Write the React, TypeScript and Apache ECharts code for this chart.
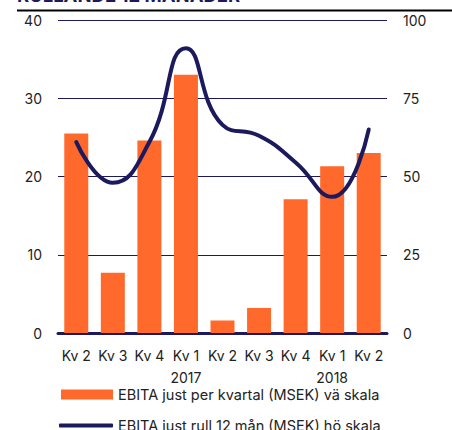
import React, { useEffect, useRef } from "react";
import * as echarts from "echarts";

const categories = ["Kv 2", "Kv 3", "Kv 4", "Kv 1\n2017", "Kv 2", "Kv 3", "Kv 4", "Kv 1\n2018", "Kv 2"];
const quarterly = [25.5, 7.7, 24.6, 33.0, 1.6, 3.2, 17.1, 21.3, 23.0];
const rolling12 = [61, 48, 61, 91, 66.5, 63, 54.5, 43.5, 65];
const leftTicks = { min: 0, max: 40, interval: 10 };
const rightTicks = { min: 0, max: 100, interval: 25 };
const seriesNames = ["EBITA just per kvartal (MSEK) vä skala", "EBITA just rull 12 mån (MSEK) hö skala"];
const titleText = "RULLANDE 12 MÅNADER";

const ORANGE = "#FF6A2C";
const NAVY = "#1C1A5C";
const FONT = "Inter, 'Noto Sans', sans-serif";

export default function App() {
  const ref = useRef<HTMLDivElement>(null);
  useEffect(() => {
    document.body.style.margin = "0";
    const chart = echarts.init(ref.current!, null, { renderer: "svg" });
    const legendText = { fontSize: 14.5, color: "#222", fontFamily: FONT };
    chart.setOption({
      animation: false,
      textStyle: { fontFamily: FONT },
      graphic: [
        {
          type: "text",
          left: 17,
          top: -15,
          style: { text: titleText, font: `bold 18.5px ${FONT}`, fill: NAVY },
        },
        {
          type: "line",
          shape: { x1: 17, y1: 10.5, x2: 452, y2: 10.5 },
          style: { stroke: "#000", lineWidth: 2 },
        },
      ],
      grid: { left: 58, right: 65, top: 20, bottom: 97 },
      legend: [
        {
          left: 56,
          top: 382,
          itemWidth: 52,
          itemHeight: 10,
          textStyle: legendText,
          data: [{ name: seriesNames[0], icon: "rect" }],
        },
        {
          left: 54,
          top: 413,
          itemWidth: 54,
          itemHeight: 4,
          textStyle: legendText,
          data: [{ name: seriesNames[1], icon: "roundRect", itemStyle: { color: NAVY } }],
        },
      ],
      xAxis: {
        type: "category",
        data: categories,
        axisLine: { lineStyle: { color: NAVY, width: 3 } },
        axisTick: { show: false },
        axisLabel: { color: "#222", fontSize: 14, margin: 11, lineHeight: 22, interval: 0 },
      },
      yAxis: [
        {
          type: "value",
          ...leftTicks,
          axisLine: { show: false },
          axisTick: { show: false },
          axisLabel: { color: "#222", fontSize: 14, margin: 16 },
          splitLine: { lineStyle: { color: NAVY, width: 1 } },
        },
        {
          type: "value",
          ...rightTicks,
          position: "right",
          axisLine: { show: false },
          axisTick: { show: false },
          axisLabel: { color: "#222", fontSize: 14, margin: 16 },
          splitLine: { show: false },
        },
      ],
      series: [
        {
          name: seriesNames[0],
          type: "bar",
          data: quarterly,
          barWidth: 24,
          itemStyle: { color: ORANGE },
        },
        {
          name: seriesNames[1],
          type: "line",
          yAxisIndex: 1,
          data: rolling12,
          smooth: 0.5,
          symbol: "none",
          lineStyle: { color: NAVY, width: 4, cap: "round" },
          itemStyle: { color: NAVY },
          z: 5,
        },
      ],
    });
    return () => chart.dispose();
  }, []);
  return <div ref={ref} style={{ width: 452, height: 430 }} />;
}
